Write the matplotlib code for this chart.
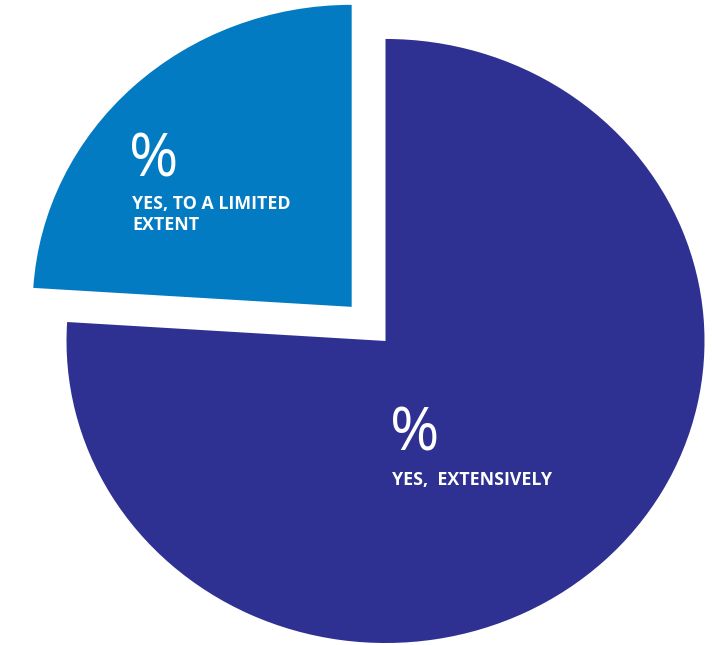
import matplotlib
matplotlib.use("Agg")
import matplotlib.pyplot as plt

# share of answers
labels = ["YES,  EXTENSIVELY", "YES, TO A LIMITED\nEXTENT"]
shares = [76, 24]
colors = ["#2E3192", "#027BC2"]
explode = [0, 0.155]

fig = plt.figure(figsize=(7.12, 6.45), dpi=100)
ax = fig.add_axes([0, 0, 1, 1])

wedges, _ = ax.pie(shares, colors=colors, explode=explode, startangle=90,
                   counterclock=False, wedgeprops=dict(linewidth=0))

# the original pie is a bit wider than tall
ax.set_aspect("auto")
ax.set_xlim(-1.2085, 1.0235)
ax.set_ylim(-1.0066, 1.129)
ax.axis("off")

# labels sit inside each wedge
ax.text(0.014, -0.364, "%", color="white", fontsize=43, family="Open Sans",
        ha="left", va="baseline")
ax.text(0.020, -0.477, labels[0], color="white", fontsize=12.8, family="Open Sans",
        fontweight="bold", ha="left", va="baseline")

ax.text(-0.805, 0.546, "%", color="white", fontsize=43, family="Open Sans",
        ha="left", va="baseline")
line1, line2 = labels[1].split("\n")
ax.text(-0.795, 0.437, line1, color="white", fontsize=12.8, family="Open Sans",
        fontweight="bold", ha="left", va="baseline")
ax.text(-0.795, 0.368, line2, color="white", fontsize=12.8, family="Open Sans",
        fontweight="bold", ha="left", va="baseline")

fig.savefig("out.png", dpi=100)
